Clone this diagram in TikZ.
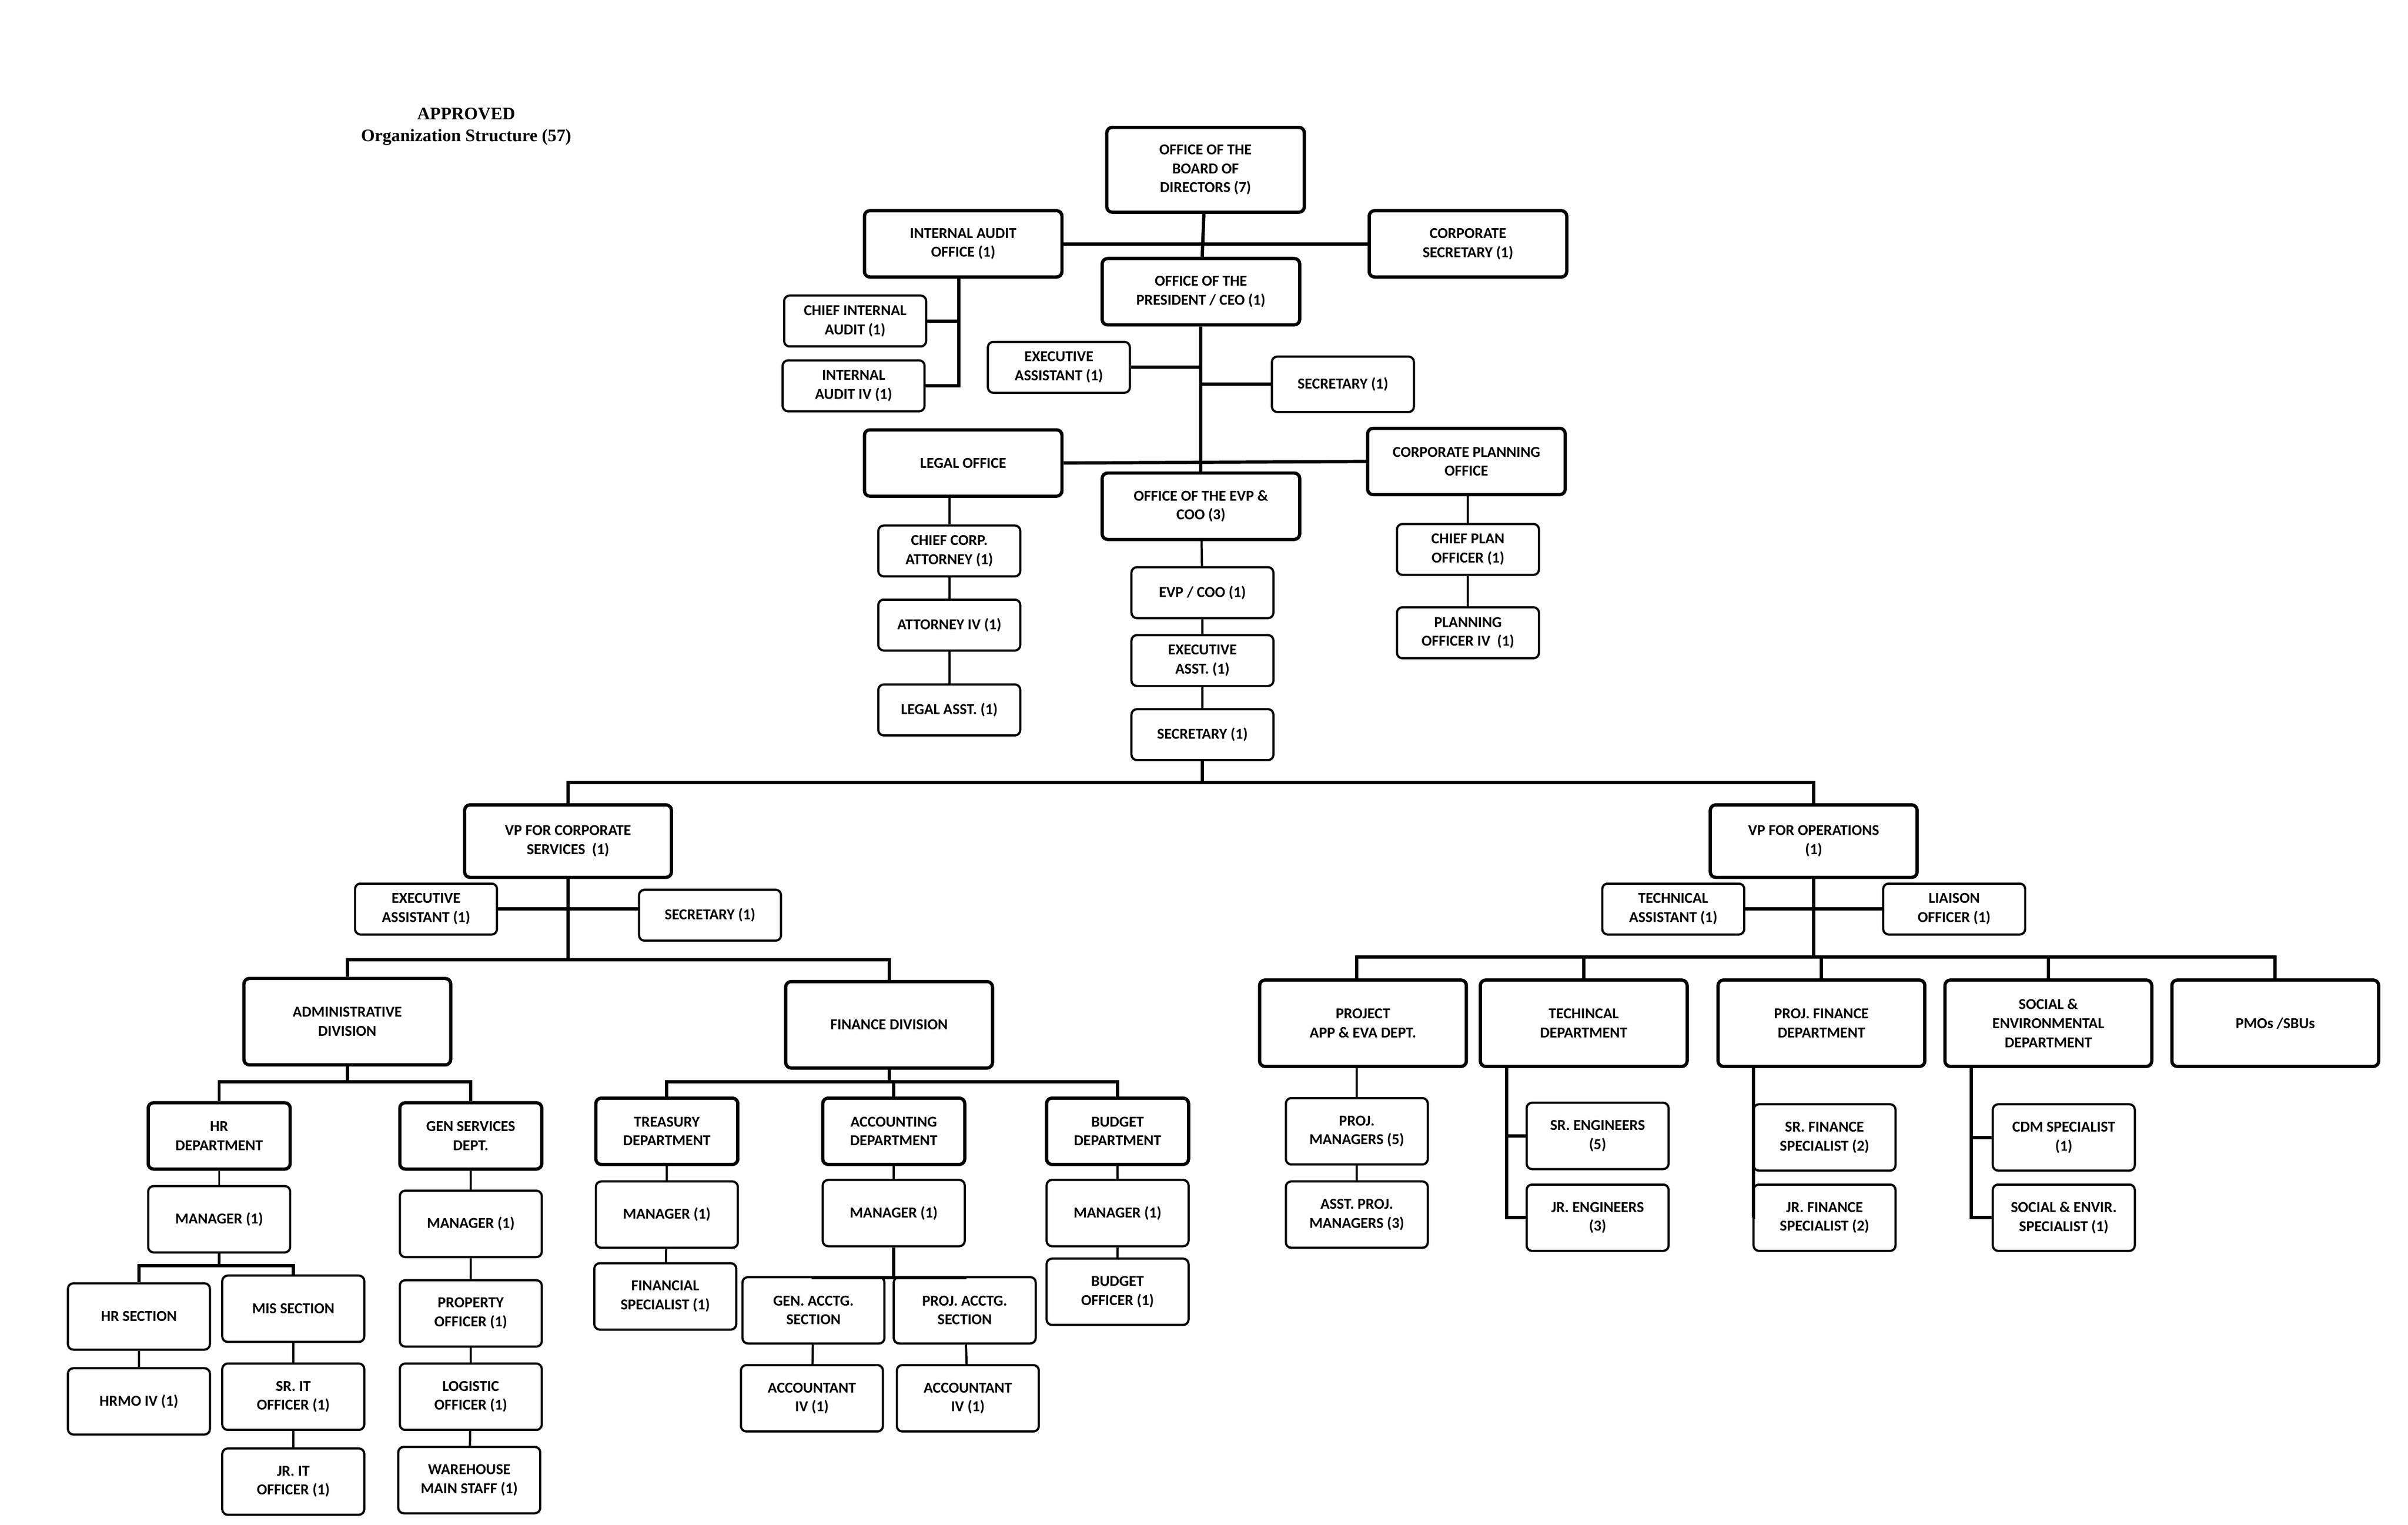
\documentclass[tikz,border=0pt]{standalone}
\usepackage{fontspec}
\setmainfont{Carlito}
\newfontfamily\titlefont{Liberation Serif}
\usetikzlibrary{positioning}
\begin{document}
\begin{tikzpicture}[
    x=0.02cm, y=-0.02cm,
    every node/.style = {font=\fontsize{5.6}{7}\selectfont\bfseries, align=center},
    bigbox/.style     = {draw, very thick, rounded corners=2pt, minimum width=2.56cm, minimum height=0.86cm, inner sep=1pt},
    divbox/.style     = {bigbox, minimum width=2.68cm, minimum height=1.12cm},
    deptbox/.style    = {bigbox, minimum width=1.84cm},
    smallbox/.style   = {draw, thick, rounded corners=2pt, minimum width=1.84cm, minimum height=0.66cm, inner sep=1pt},
    tallbox/.style    = {smallbox, minimum height=0.86cm},
    link/.style       = {draw, thick},
    bus/.style        = {draw, very thick},
]
\useasboundingbox (0,0) rectangle (1560,988);
% title
\node [font=\titlefont\fontsize{6.5}{8}\selectfont\bfseries] (title) at (302,82) {APPROVED\\Organization Structure (57)};

% top offices
\node [bigbox, minimum height=1.1cm] (board) at (781,110) {OFFICE OF THE\\BOARD OF\\DIRECTORS (7)};
\node [bigbox] (audit) at (624,158) {INTERNAL AUDIT\\OFFICE (1)};
\node [bigbox] (corpsec) at (951,158) {CORPORATE\\SECRETARY (1)};
\node [bigbox] (pres) at (778,189) {OFFICE OF THE\\PRESIDENT / CEO (1)};
\node [smallbox] (chiefaudit) at (554,208) {CHIEF INTERNAL\\AUDIT (1)};
\node [smallbox] (audit4) at (553,250) {INTERNAL\\AUDIT IV (1)};
\node [smallbox] (presea) at (686,238) {EXECUTIVE\\ASSISTANT (1)};
\node [smallbox, minimum height=0.72cm] (pressec) at (870,249) {SECRETARY (1)};
\node [bigbox] (legal) at (624,300) {LEGAL OFFICE};
\node [bigbox] (plan) at (950,299) {CORPORATE PLANNING\\OFFICE};
\node [bigbox] (evp) at (778,328) {OFFICE OF THE EVP \&\\COO (3)};
\node [smallbox] (corpatty) at (615,357) {CHIEF CORP.\\ATTORNEY (1)};
\node [smallbox] (atty4) at (615,405) {ATTORNEY IV (1)};
\node [smallbox] (legalasst) at (615,460) {LEGAL ASST. (1)};
\node [smallbox] (evpcoo) at (779,384) {EVP / COO (1)};
\node [smallbox] (evpea) at (779,428) {EXECUTIVE\\ASST. (1)};
\node [smallbox] (evpsec) at (779,476) {SECRETARY (1)};
\node [smallbox] (chiefplan) at (951,356) {CHIEF PLAN\\OFFICER (1)};
\node [smallbox] (plan4) at (951,410) {PLANNING\\OFFICER IV\ \ (1)};

\draw [bus] (board) -- (pres);
\draw [bus] (audit.east) -- (corpsec.west);
\draw [bus] (audit.south -| 621,0) -- (621,250) -- (audit4.east);
\draw [bus] (chiefaudit.east) -- (621,208);
\draw [bus] (pres) -- (evp);
\draw [bus] (presea.east) -- (778,238);
\draw [bus] (pressec.west) -- (778,249);
\draw [bus] (legal.east) -- (plan.west);
\draw [link] (legal.south -| corpatty) -- (corpatty) (corpatty) -- (atty4) (atty4) -- (legalasst);
\draw [link] (plan.south -| chiefplan) -- (chiefplan) (chiefplan) -- (plan4);
\draw [link] (evp) -- (evpcoo) (evpcoo) -- (evpea) (evpea) -- (evpsec);

% vice presidents
\node [divbox, minimum height=0.94cm] (vpcorp) at (368,545) {VP FOR CORPORATE\\SERVICES\ \ (1)};
\node [divbox, minimum height=0.94cm] (vpops) at (1175,545) {VP FOR OPERATIONS\\(1)};
\draw [bus] (evpsec) -- (779,507) coordinate (vpbus);
\draw [bus] (vpcorp.north) -- (vpcorp.north |- vpbus) -- (vpops.north |- vpbus) -- (vpops.north);
\node [smallbox] (vpcea) at (276,589) {EXECUTIVE\\ASSISTANT (1)};
\node [smallbox] (vpcsec) at (460,593) {SECRETARY (1)};
\node [smallbox] (vpota) at (1084,589) {TECHNICAL\\ASSISTANT (1)};
\node [smallbox] (vpolo) at (1266,589) {LIAISON\\OFFICER (1)};
\draw [bus] (vpcea.east) -- (vpcsec.west |- vpcea.east);
\draw [bus] (vpota.east) -- (vpolo.west);

% corporate services
\node [divbox] (admin) at (225,662) {ADMINISTRATIVE\\DIVISION};
\node [divbox] (findiv) at (576,664) {FINANCE DIVISION};
\draw [bus] (vpcorp) -- (368,622) coordinate (csbus);
\draw [bus] (admin.north) -- (admin.north |- csbus) -- (findiv.north |- csbus) -- (findiv.north);

\node [deptbox] (hrdept) at (142,736) {HR\\DEPARTMENT};
\node [deptbox] (gsdept) at (305,736) {GEN SERVICES\\DEPT.};
\draw [bus] (admin) -- (225,701) coordinate (adbus);
\draw [bus] (hrdept.north) -- (hrdept.north |- adbus) -- (gsdept.north |- adbus) -- (gsdept.north);
\node [tallbox] (hrmgr) at (142,790) {MANAGER (1)};
\node [tallbox] (gsmgr) at (305,793) {MANAGER (1)};
\node [tallbox] (hrsec) at (90,853) {HR SECTION};
\node [tallbox] (missec) at (190,848) {MIS SECTION};
\node [tallbox] (hrmo) at (90,908) {HRMO IV (1)};
\node [tallbox] (srit) at (190,905) {SR. IT\\OFFICER (1)};
\node [tallbox] (jrit) at (190,960) {JR. IT\\OFFICER (1)};
\node [tallbox] (property) at (305,851) {PROPERTY\\OFFICER (1)};
\node [tallbox] (logistic) at (305,905) {LOGISTIC\\OFFICER (1)};
\node [tallbox] (warehouse) at (304,959) {WAREHOUSE\\MAIN STAFF (1)};
\draw [link] (hrdept) -- (hrmgr);
\draw [bus] (hrmgr) -- (142,820) coordinate (hrbus);
\draw [bus] (hrsec.north) -- (hrsec.north |- hrbus) -- (missec.north |- hrbus) -- (missec.north);
\draw [link] (hrsec) -- (hrmo) (missec) -- (srit) (srit) -- (jrit);
\draw [link] (gsdept) -- (gsmgr) (gsmgr) -- (property) (property) -- (logistic) (logistic) -- (warehouse);

\node [deptbox] (treasury) at (432,733) {TREASURY\\DEPARTMENT};
\node [deptbox] (accounting) at (579,733) {ACCOUNTING\\DEPARTMENT};
\node [deptbox] (budget) at (724,733) {BUDGET\\DEPARTMENT};
\draw [bus] (findiv) -- (576,701) coordinate (finbus);
\draw [bus] (treasury.north) -- (treasury.north |- finbus) -- (budget.north |- finbus) -- (budget.north);
\draw [bus] (accounting.north) -- (accounting.north |- finbus);
\node [tallbox] (trmgr) at (432,787) {MANAGER (1)};
\node [tallbox] (acmgr) at (579,786) {MANAGER (1)};
\node [tallbox] (bdmgr) at (724,786) {MANAGER (1)};
\node [tallbox] (finspec) at (431,840) {FINANCIAL\\SPECIALIST (1)};
\node [tallbox] (budoff) at (724,837) {BUDGET\\OFFICER (1)};
\node [tallbox] (genacct) at (527,849) {GEN. ACCTG.\\SECTION};
\node [tallbox] (projacct) at (625,849) {PROJ. ACCTG.\\SECTION};
\node [tallbox] (acct1) at (526,906) {ACCOUNTANT\\IV (1)};
\node [tallbox] (acct2) at (627,906) {ACCOUNTANT\\IV (1)};
\draw [link] (treasury) -- (trmgr) (trmgr) -- (finspec);
\draw [link] (budget) -- (bdmgr) (bdmgr) -- (budoff);
\draw [link] (accounting) -- (acmgr);
\draw [bus] (acmgr) -- (579,828) coordinate (acbus);
\draw [bus] (genacct.north) -- (genacct.north |- acbus) -- (projacct.north |- acbus) -- (projacct.north);
\draw [link] (genacct) -- (acct1) (projacct) -- (acct2);

% operations
\node [divbox] (appeva) at (883,663) {PROJECT\\APP \& EVA DEPT.};
\node [divbox] (techdept) at (1026,663) {TECHINCAL\\DEPARTMENT};
\node [divbox] (pfdept) at (1180,663) {PROJ. FINANCE\\DEPARTMENT};
\node [divbox] (sedept) at (1327,663) {SOCIAL \&\\ENVIRONMENTAL\\DEPARTMENT};
\node [divbox] (pmo) at (1474,663) {PMOs /SBUs};
\draw [bus] (vpops) -- (1175,620) coordinate (opbus);
\draw [bus] (879,635) -- (879,620) -- (pmo.north |- opbus) -- (pmo.north);
\foreach \d in {techdept, pfdept, sedept} \draw [bus] (\d.north) -- (\d.north |- opbus);

\node [tallbox] (projmgr) at (879,733) {PROJ.\\MANAGERS (5)};
\node [tallbox] (asstmgr) at (879,787) {ASST. PROJ.\\MANAGERS (3)};
\draw [link] (projmgr.north) -- (projmgr.north |- appeva.south) (projmgr) -- (asstmgr);
\node [tallbox] (sreng) at (1035,736) {SR. ENGINEERS\\(5)};
\node [tallbox] (jreng) at (1035,789) {JR. ENGINEERS\\(3)};
\node [tallbox] (srfin) at (1182,737) {SR. FINANCE\\SPECIALIST (2)};
\node [tallbox] (jrfin) at (1182,789) {JR. FINANCE\\SPECIALIST (2)};
\node [tallbox] (cdm) at (1337,737) {CDM SPECIALIST\\(1)};
\node [tallbox] (socenv) at (1337,789) {SOCIAL \& ENVIR.\\SPECIALIST (1)};
\draw [bus] (976,691) -- (976,789) -- (jreng.west);
\draw [bus] (976,736) -- (sreng.west);
\draw [bus] (1136,691) -- (1136,789) -- (jrfin.west);
\draw [bus] (1136,737) -- (srfin.west);
\draw [bus] (1277,691) -- (1277,789) -- (socenv.west);
\draw [bus] (1277,737) -- (cdm.west);
\end{tikzpicture}
\end{document}
